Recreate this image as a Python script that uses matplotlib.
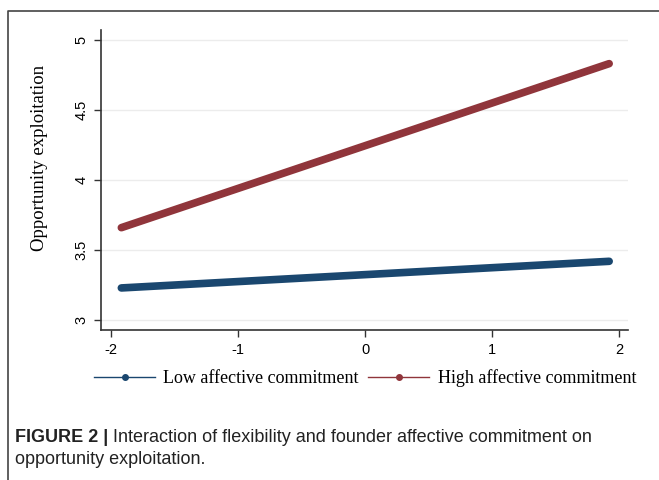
import matplotlib.pyplot as plt
from matplotlib.lines import Line2D

# Data
flexibility = [-1.92, 1.92]
low_commit = [3.23, 3.42]
high_commit = [3.66, 4.83]

x_ticks = [-2, -1, 0, 1, 2]
x_ticklabels = ["-2", "-1", "0", "1", "2"]
y_ticks = [3, 3.5, 4, 4.5, 5]
y_ticklabels = ["3", "3.5", "4", "4.5", "5"]

colors = {"low": "#1a476f", "high": "#90353b"}

fig = plt.figure(figsize=(6.59, 4.8), dpi=100)
ax = fig.add_axes([0.1533, 0.3125, 0.800, 0.625])

ax.plot(flexibility, low_commit, color=colors["low"], linewidth=5.5,
        solid_capstyle="round")
ax.plot(flexibility, high_commit, color=colors["high"], linewidth=5.5,
        solid_capstyle="round")

ax.set_xlim(-2.08, 2.07)
ax.set_ylim(2.93, 5.07)
ax.set_xticks(x_ticks)
ax.set_xticklabels(x_ticklabels, fontsize=10.5, family="Liberation Sans")
ax.set_yticks(y_ticks)
ax.set_yticklabels(y_ticklabels, fontsize=10.5, family="Liberation Sans",
                   rotation=90, va="center")
ax.tick_params(length=5, width=1, color="#333333", pad=4)
ax.grid(axis="y", color="#ececec", linewidth=1)
ax.set_axisbelow(True)
ax.spines[["top", "right"]].set_visible(False)
for s in ["left", "bottom"]:
    ax.spines[s].set_color("#333333")
    ax.spines[s].set_linewidth(1.2)

ax.set_ylabel("Opportunity exploitation", fontsize=13.5,
              family="Liberation Serif")
ax.yaxis.set_label_coords(-0.1, 0.573)

# legend below the plot
handles = [
    Line2D([], [], color=colors["low"], linewidth=1, marker="o", markersize=4),
    Line2D([], [], color=colors["high"], linewidth=1, marker="o", markersize=4),
]
fig.legend(handles, ["Low affective commitment", "High affective commitment"],
           loc="center", bbox_to_anchor=(365 / 659, 1 - 378 / 480), ncol=2,
           frameon=False, handlelength=3.4, handletextpad=0.45, columnspacing=0.5,
           prop={"family": "Liberation Serif", "size": 13})

# outer frame
fig.add_artist(Line2D([8 / 659, 8 / 659, 1], [0, 1 - 11 / 480, 1 - 11 / 480],
                      transform=fig.transFigure, color="#444444", linewidth=1.2))

# caption
bold = fig.text(15 / 659, 1 - 437 / 480, "FIGURE 2 |", fontsize=13,
                fontweight="bold", family="Liberation Sans", va="center",
                color="#222222")
ax.annotate(" Interaction of flexibility and founder affective commitment on",
            xy=(1, 0.5), xycoords=bold, va="center", ha="left", fontsize=13,
            family="Liberation Sans", color="#222222")
fig.text(15 / 659, 1 - 460 / 480, "opportunity exploitation.", fontsize=13,
         family="Liberation Sans", va="center", color="#222222")

plt.savefig("out.png", dpi=100)
plt.close()
